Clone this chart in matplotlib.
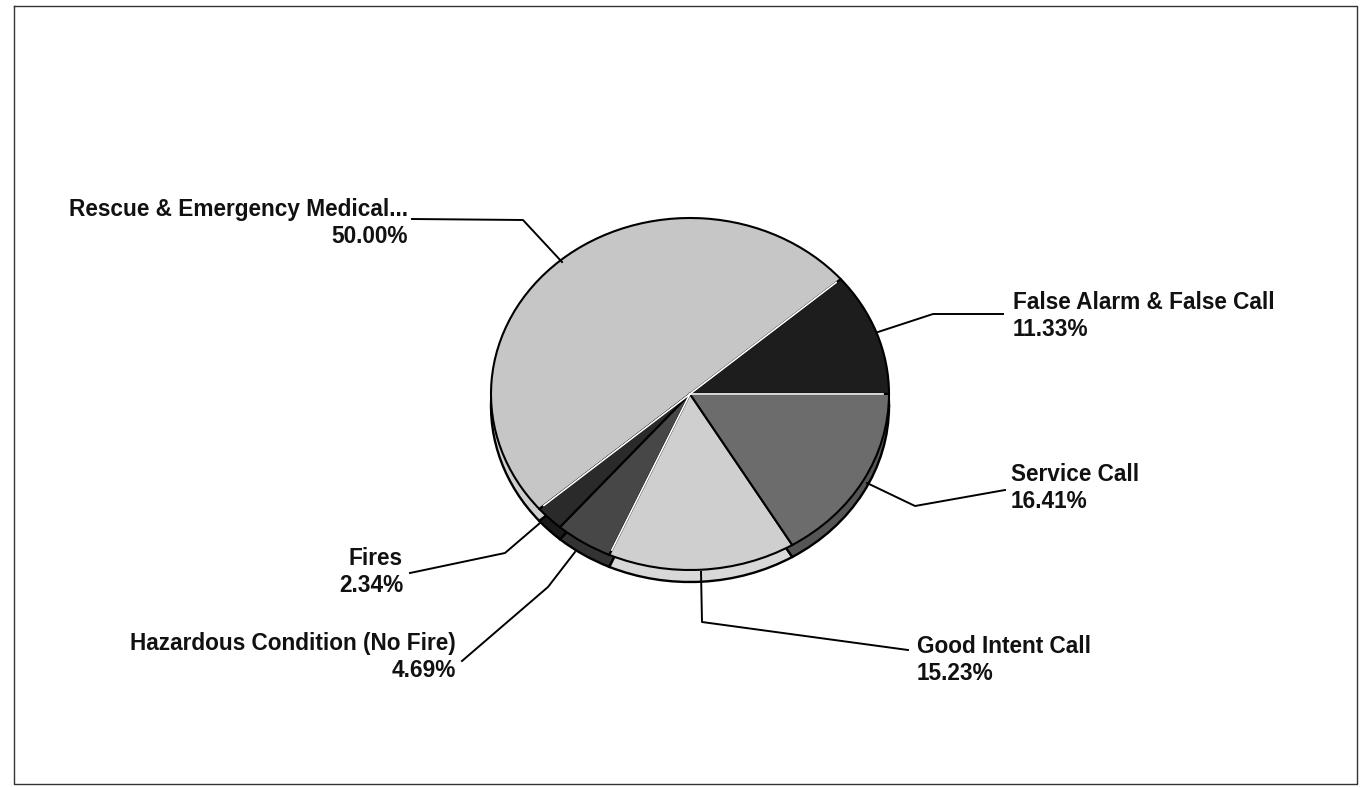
import numpy as np
import matplotlib
matplotlib.use("Agg")
import matplotlib.pyplot as plt

plt.rcParams["font.family"] = ["Liberation Sans", "DejaVu Sans"]

labels = ["False Alarm & False Call", "Rescue & Emergency Medical...", "Fires",
          "Hazardous Condition (No Fire)", "Good Intent Call", "Service Call"]
values = [11.33, 50.00, 2.34, 4.69, 15.23, 16.41]
percents = ["11.33%", "50.00%", "2.34%", "4.69%", "15.23%", "16.41%"]
colors = ["#1d1d1d", "#c6c6c6", "#2a2a2a", "#474747", "#cfcfcf", "#6c6c6c"]
rimColors = ["#1d1d1d", "#cfcfcf", "#1a1a1a", "#333333", "#d8d8d8", "#555555"]

W, H = 1362, 787
CX, CY, RX, RY = 690, 394, 199, 176
RIM = 12

# label anchor x, baseline of first line, baseline of second line, alignment
textPos = [(1013, 309, 336, "left"), (408, 216, 243, "right"), (403, 565, 592, "right"),
           (456, 650, 677, "right"), (917, 653, 680, "left"), (1011, 481, 508, "left")]
leaders = [[(878, 332), (933, 314), (1003, 314)],
           [(562, 262), (523, 220), (412, 219)],
           [(540, 523), (505, 553), (410, 573)],
           [(575, 552), (548, 587), (462, 661)],
           [(701, 572), (702, 622), (908, 650)],
           [(867, 483), (915, 506), (1005, 490)]]
# slice boundaries (index into the running total) that show a light edge
lightEdges = [0, 1, 3]


def main():
    fig = plt.figure(figsize=(W / 100, H / 100), dpi=100, facecolor="white")
    back = fig.add_axes([0, 0, 1, 1])
    back.set_xlim(0, W)
    back.set_ylim(H, 0)
    back.axis("off")
    back.plot([14, 14, 1357, 1357, 14], [6, 784, 784, 6, 6], color="#333333", lw=1.0)

    pieAx = fig.add_axes([(CX - RX) / W, 1 - (CY + RY + RIM + 2) / H, 2 * RX / W, (2 * RY + RIM + 2) / H])
    pieAx.pie(values, colors=rimColors, startangle=0, counterclock=True, center=(0, -RIM / RY),
              wedgeprops={"edgecolor": "black", "linewidth": 1.7})
    pieAx.pie(values, colors=colors, startangle=0, counterclock=True,
              wedgeprops={"edgecolor": "black", "linewidth": 1.5})
    # light highlight along some slice edges
    ends = np.cumsum(values) / np.sum(values) * 2 * np.pi
    for i in lightEdges:
        pieAx.plot([0, 0.97 * np.cos(ends[i])], [0, 0.97 * np.sin(ends[i])], color="white", lw=1.2)
    pieAx.plot([0, 0.97], [0, 0], color="white", lw=1.2)
    pieAx.set_aspect("auto")
    pieAx.set_xlim(-1, 1)
    pieAx.set_ylim(-1 - (RIM + 2) / RY, 1)

    over = fig.add_axes([0, 0, 1, 1])
    over.set_xlim(0, W)
    over.set_ylim(H, 0)
    over.axis("off")
    over.patch.set_alpha(0)
    for name, pct, pos, line in zip(labels, percents, textPos, leaders):
        x, y1, y2, ha = pos
        over.text(x, y1, name, ha=ha, va="baseline", fontsize=16.3, fontweight="bold", color="#111111")
        over.text(x, y2, pct, ha=ha, va="baseline", fontsize=16.3, fontweight="bold", color="#111111")
        over.plot([p[0] for p in line], [p[1] for p in line], color="black", lw=1.4)

    fig.savefig("out.png", dpi=100)


if __name__ == "__main__":
    main()
